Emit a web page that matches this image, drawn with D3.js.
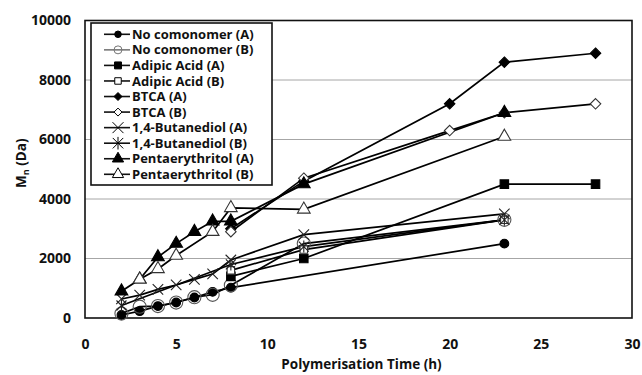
<!DOCTYPE html>
<html>
<head>
<meta charset="utf-8">
<script src="https://cdn.jsdelivr.net/npm/d3@7"></script>
<style>
  body { margin: 0; background: white; }
  text { font-family: "Open Sans", Lato, sans-serif; font-weight: bold; fill: #111; }
</style>
</head>
<body>
<script>
// data, [time (h), Mn (Da)]
const noComonomerA = [[2, 100], [3, 230], [4, 400], [5, 520], [6, 690], [7, 880], [8, 1020], [23, 2500]];
const noComonomerB = [[2, 150], [3, 380], [4, 400], [5, 520], [6, 700], [7, 780], [8, 1100], [12, 2500], [23, 3300]];
const adipicA = [[8, 1400], [12, 2000], [23, 4500], [28, 4500]];
const adipicB = [[8, 1600], [12, 2300], [23, 3300]];
const btcaA = [[8, 3000], [12, 4600], [20, 7200], [23, 8600], [28, 8900]];
const btcaB = [[8, 2900], [12, 4700], [20, 6300], [23, 6900], [28, 7200]];
const butanediolA = [[2, 640], [3, 770], [4, 960], [5, 1110], [6, 1300], [7, 1480], [8, 1950], [12, 2800], [23, 3500]];
const butanediolB = [[2, 420], [8, 1800], [12, 2400], [23, 3300]];
const pentaA = [[2, 900], [3, 1300], [4, 2050], [5, 2500], [6, 2900], [7, 3250], [8, 3250], [12, 4500], [23, 6900]];
const pentaB = [[3, 1300], [4, 1650], [5, 2100], [7, 2900], [8, 3700], [12, 3650], [23, 6100]];

const seriesNames = ['No comonomer (A)', 'No comonomer (B)', 'Adipic Acid (A)', 'Adipic Acid (B)',
  'BTCA (A)', 'BTCA (B)', '1,4-Butanediol (A)', '1,4-Butanediol (B)',
  'Pentaerythritol (A)', 'Pentaerythritol (B)'];
const xTicks = [0, 5, 10, 15, 20, 25, 30];
const yTicks = [0, 2000, 4000, 6000, 8000, 10000];

// custom marker shapes
const symX = { draw(ctx, size) { const r = Math.sqrt(size) / 2;
  ctx.moveTo(-r, -r); ctx.lineTo(r, r); ctx.moveTo(r, -r); ctx.lineTo(-r, r); } };
const symAst = { draw(ctx, size) { const r = Math.sqrt(size) / 2;
  ctx.moveTo(-r, -r); ctx.lineTo(r, r); ctx.moveTo(r, -r); ctx.lineTo(-r, r);
  ctx.moveTo(0, -r * 1.2); ctx.lineTo(0, r * 1.2); } };
const symDiamond = { draw(ctx, size) { const r = Math.sqrt(size) / 2;
  ctx.moveTo(0, -r); ctx.lineTo(r, 0); ctx.lineTo(0, r); ctx.lineTo(-r, 0); ctx.closePath(); } };

const seriesData = [noComonomerA, noComonomerB, adipicA, adipicB, btcaA, btcaB,
  butanediolA, butanediolB, pentaA, pentaB];
const markers = [
  { type: d3.symbolCircle, size: 60, fill: '#000', stroke: '#000', legendSize: 34 },
  { type: d3.symbolCircle, size: 135, fill: 'none', stroke: '#555', legendSize: 50 },
  { type: d3.symbolSquare, size: 72, fill: '#000', stroke: '#000', legendSize: 48 },
  { type: d3.symbolSquare, size: 56, fill: 'white', stroke: '#333', legendSize: 42 },
  { type: symDiamond, size: 110, fill: '#000', stroke: '#000', legendSize: 64 },
  { type: symDiamond, size: 110, fill: 'white', stroke: '#333', legendSize: 64 },
  { type: symX, size: 110, fill: 'none', stroke: '#222', legendSize: 120 },
  { type: symAst, size: 100, fill: 'none', stroke: '#222', legendSize: 110 },
  { type: d3.symbolTriangle, size: 70, fill: '#000', stroke: '#000', legendSize: 55 },
  { type: d3.symbolTriangle, size: 70, fill: 'white', stroke: '#333', legendSize: 55 }
];

const W = 642, H = 375;
const margin = { top: 20.5, right: 10, bottom: 57, left: 85 };
const width = W - margin.left - margin.right;
const height = H - margin.top - margin.bottom;

const svg = d3.select('body').append('svg')
  .attr('width', W).attr('height', H);

const g = svg.append('g')
  .attr('transform', `translate(${margin.left},${margin.top})`);

const x = d3.scaleLinear().domain([0, 30]).range([0, width]);
const y = d3.scaleLinear().domain([0, 10000]).range([height, 0]);

// gridlines
g.append('g')
  .selectAll('line')
  .data(yTicks.slice(1, -1))
  .join('line')
  .attr('x1', 0).attr('x2', width)
  .attr('y1', d => y(d)).attr('y2', d => y(d))
  .attr('stroke', '#a6a6a6').attr('stroke-width', 1);

// axes (labels only)
const xAxis = g.append('g')
  .attr('transform', `translate(0,${height})`)
  .call(d3.axisBottom(x).tickValues(xTicks).tickSize(0).tickPadding(21));
xAxis.select('.domain').remove();
xAxis.selectAll('text').style('font-size', '14px').attr('fill', '#111');

const yAxis = g.append('g')
  .call(d3.axisLeft(y).tickValues(yTicks).tickSize(0).tickPadding(14).tickFormat(d3.format('d')));
yAxis.select('.domain').remove();
yAxis.selectAll('text').style('font-size', '14px').attr('fill', '#111');

// plot border
g.append('rect')
  .attr('width', width).attr('height', height)
  .attr('fill', 'none').attr('stroke', '#111').attr('stroke-width', 1.6);

const line = d3.line().x(d => x(d[0])).y(d => y(d[1]));

seriesData.forEach((data, i) => {
  g.append('path')
    .datum(data)
    .attr('fill', 'none')
    .attr('stroke', '#000')
    .attr('stroke-width', 1.7)
    .attr('d', line);
});

seriesData.forEach((data, i) => {
  const m = markers[i];
  g.append('g')
    .selectAll('path')
    .data(data)
    .join('path')
    .attr('transform', d => `translate(${x(d[0])},${y(d[1])})`)
    .attr('d', d3.symbol().type(m.type).size(m.size))
    .attr('fill', m.fill)
    .attr('stroke', m.stroke)
    .attr('stroke-width', 1.1);
});

// legend
const legend = svg.append('g').attr('transform', 'translate(91,23)');
legend.append('rect')
  .attr('width', 181).attr('height', 162)
  .attr('fill', 'white').attr('stroke', '#111').attr('stroke-width', 1.6);

const rowY = d3.scalePoint().domain(seriesNames).range([11.3, 151.3]);
seriesNames.forEach((name, i) => {
  const m = markers[i];
  const row = legend.append('g').attr('transform', `translate(0,${rowY(name)})`);
  row.append('line')
    .attr('x1', 13).attr('x2', 39)
    .attr('stroke', i === 1 ? '#777' : '#111').attr('stroke-width', 1.6);
  row.append('path')
    .attr('transform', 'translate(27,0)')
    .attr('d', d3.symbol().type(m.type).size(m.legendSize))
    .attr('fill', m.fill)
    .attr('stroke', i === 1 ? '#777' : '#000').attr('stroke-width', 1);
  row.append('text')
    .attr('x', 41).attr('dy', '0.35em')
    .style('font-size', '13px')
    .text(name);
});

// axis titles
svg.append('text')
  .attr('x', margin.left + width / 2 + 3).attr('y', 369)
  .attr('text-anchor', 'middle')
  .style('font-size', '13.5px')
  .text('Polymerisation Time (h)');

const yTitle = svg.append('text')
  .attr('transform', `translate(26,${margin.top + height / 2 - 6}) rotate(-90)`)
  .attr('text-anchor', 'middle')
  .style('font-size', '13.5px');
yTitle.append('tspan').text('M');
yTitle.append('tspan').attr('dy', 3).style('font-size', '9px').text('n');
yTitle.append('tspan').attr('dy', -3).text(' (Da)');
</script>
</body>
</html>
